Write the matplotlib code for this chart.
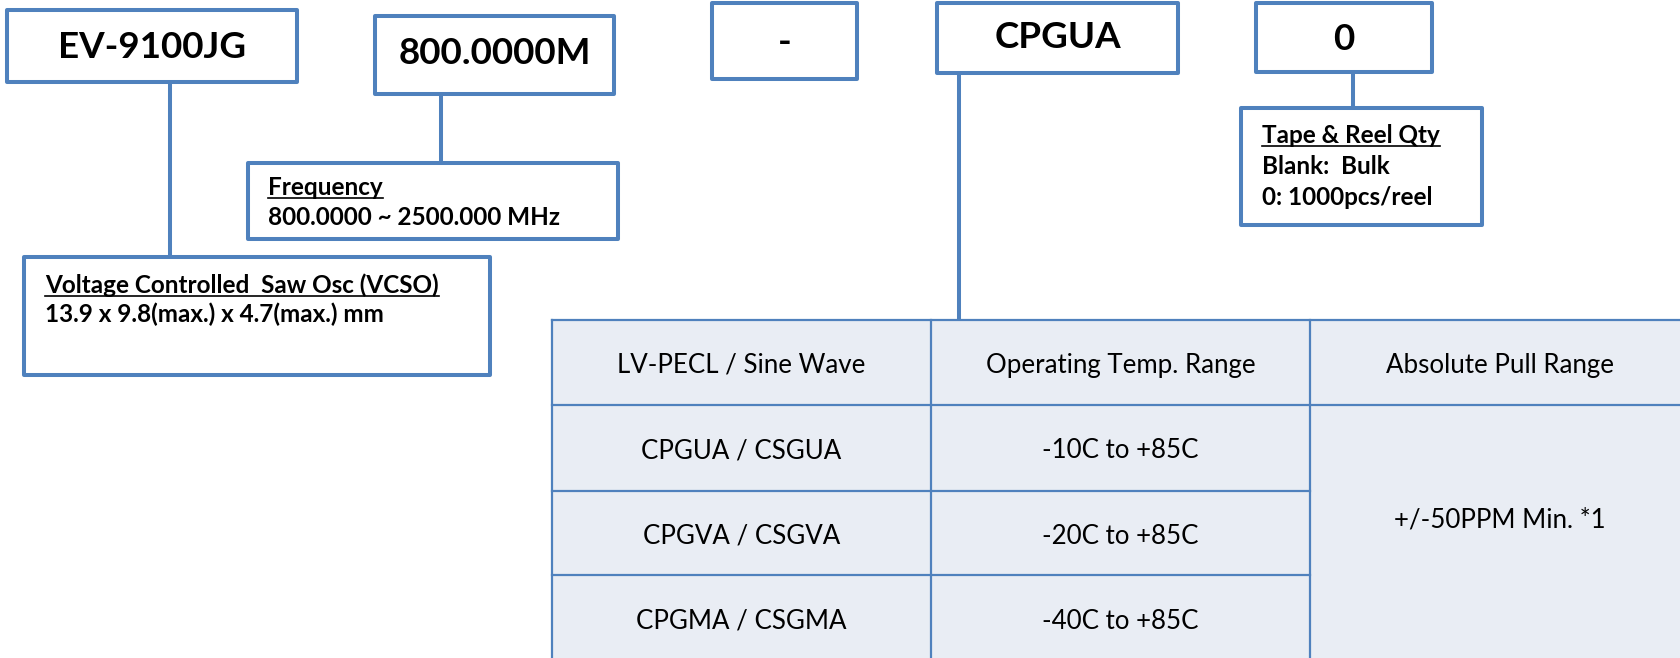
import matplotlib

matplotlib.use("Agg")
import matplotlib.pyplot as plt
from matplotlib.patches import Rectangle

plt.rcParams["font.family"] = ["Lato", "DejaVu Sans"]

BLUE = "#4f81bd"
FILL = "#e9edf4"

# part-number code boxes
codes = ["EV-9100JG", "800.0000M", "-", "CPGUA", "0"]
# description boxes: heading + lines
freq_head = "Frequency"
freq_lines = ["800.0000 ~ 2500.000 MHz"]
vcso_head = "Voltage Controlled  Saw Osc (VCSO)"
vcso_lines = ["13.9 x 9.8(max.) x 4.7(max.) mm"]
reel_head = "Tape & Reel Qty"
reel_lines = ["Blank:  Bulk", "0: 1000pcs/reel"]
# option table
tbl_header = ["LV-PECL / Sine Wave", "Operating Temp. Range", "Absolute Pull Range"]
tbl_output = ["CPGUA / CSGUA", "CPGVA / CSGVA", "CPGMA / CSGMA"]
tbl_temp = ["-10C to +85C", "-20C to +85C", "-40C to +85C"]
tbl_pull = "+/-50PPM Min. *1"

W, H = 1680, 658
fig = plt.figure(figsize=(W / 100, H / 100), dpi=100)
ax = fig.add_axes([0, 0, 1, 1])
ax.set_xlim(0, W)
ax.set_ylim(H, 0)
ax.axis("off")


def box(x0, y0, x1, y1, lw=2.9):
    ax.add_patch(Rectangle((x0, y0), x1 - x0, y1 - y0, fc="white", ec=BLUE, lw=lw,
                           joinstyle="round", zorder=2))


def stem(x, y0, y1):
    ax.plot([x, x], [y0, y1], color=BLUE, lw=2.9, zorder=1, solid_capstyle="butt")


renderer = fig.canvas.get_renderer()


def desc(x, y, head, lines, size=17.5, step=30):
    t = ax.text(x, y, head, fontsize=size, fontweight="bold", va="baseline", zorder=3)
    bb = t.get_window_extent(renderer)
    ax.plot([x, x + bb.width], [y + 3, y + 3], color="black", lw=1.2, zorder=3)
    for i, s in enumerate(lines):
        ax.text(x, y + step * (i + 1), s, fontsize=size, fontweight="bold", va="baseline", zorder=3)


# code boxes along the top
code_boxes = [(7, 10, 297, 82), (375, 16, 614, 94), (712, 3, 857, 79), (937, 3, 1178, 73), (1256, 3, 1432, 72)]
code_y = [47, 53, 43, 38, 39]
for (x0, y0, x1, y1), s, cy in zip(code_boxes, codes, code_y):
    box(x0, y0, x1, y1)
    ax.text((x0 + x1) / 2, cy, s, fontsize=26.5, fontweight="bold", ha="center", va="center", zorder=3)

# connectors
stem(170, 82, 257)
stem(441, 94, 163)
stem(959, 73, 320)
stem(1353, 72, 108)

# description boxes
box(24, 257, 490, 375)
desc(45, 293, vcso_head, vcso_lines, step=29)
box(248, 163, 618, 239)
desc(268, 195, freq_head, freq_lines)
box(1241, 108, 1482, 225)
desc(1262, 143, reel_head, reel_lines, step=31)

# option table
tx = [552, 931, 1310, 1690]
ty = [320, 405, 491, 575, 662]
ax.add_patch(Rectangle((tx[0], ty[0]), tx[3] - tx[0], ty[4] - ty[0], fc=FILL, ec="none", zorder=1))
lw_t = 1.6
for y in ty[:2]:
    ax.plot([tx[0], tx[3]], [y, y], color=BLUE, lw=lw_t, zorder=2)
for y in ty[2:4]:
    ax.plot([tx[0], tx[2]], [y, y], color=BLUE, lw=lw_t, zorder=2)
for x in tx[:3]:
    ax.plot([x, x], [ty[0], ty[4]], color=BLUE, lw=lw_t, zorder=2)

fs_t = 18.6
dy = 3
for j, s in enumerate(tbl_header):
    ax.text((tx[j] + tx[j + 1]) / 2, (ty[0] + ty[1]) / 2 + dy, s,
            fontsize=fs_t, ha="center", va="center", zorder=3)
for i in range(3):
    cy = (ty[i + 1] + ty[i + 2]) / 2 + dy
    ax.text((tx[0] + tx[1]) / 2, cy, tbl_output[i], fontsize=fs_t, ha="center", va="center", zorder=3)
    ax.text((tx[1] + tx[2]) / 2, cy, tbl_temp[i], fontsize=fs_t, ha="center", va="center", zorder=3)
ax.text((tx[2] + tx[3]) / 2, 517 + dy, tbl_pull, fontsize=fs_t, ha="center", va="center", zorder=3)

fig.savefig("out.png", dpi=100)
